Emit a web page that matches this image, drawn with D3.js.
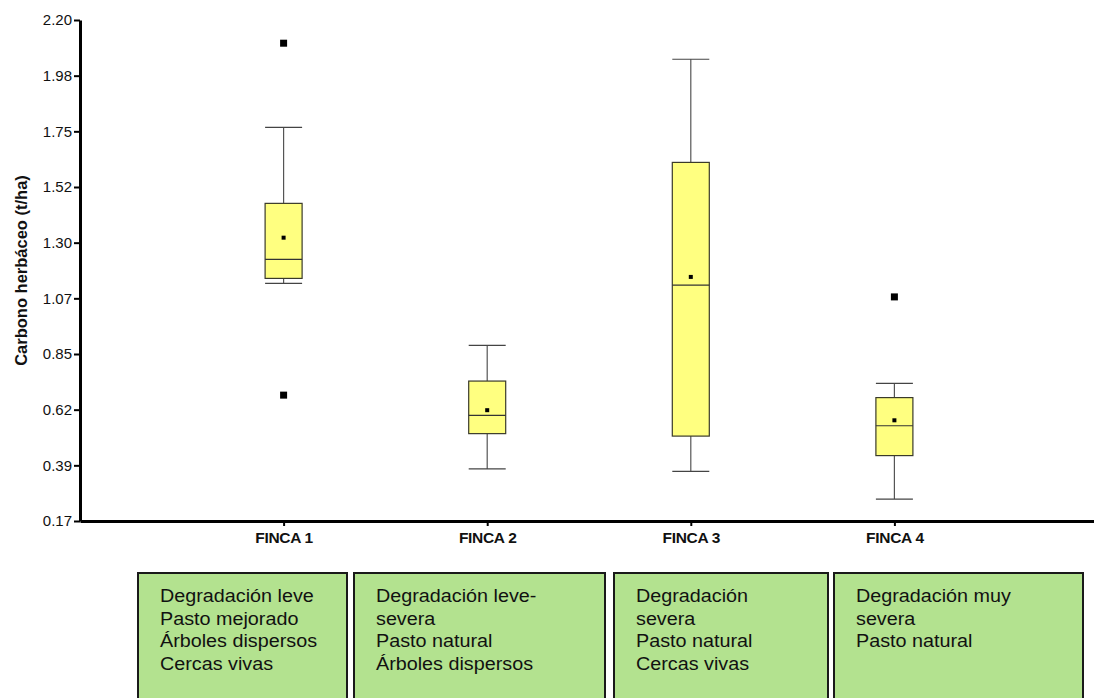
<!DOCTYPE html>
<html>
<head>
<meta charset="utf-8">
<script src="https://cdn.jsdelivr.net/npm/d3@7"></script>
<style>
  body { margin: 0; background: #fff; }
  svg { display: block; font-family: Arial, 'Liberation Sans', sans-serif; }
</style>
</head>
<body>
<svg id="chart" width="1094" height="698"></svg>
<script>
// values
const fincas = ['FINCA 1', 'FINCA 2', 'FINCA 3', 'FINCA 4'];
const q1 = [1.153, 0.524, 0.514, 0.435];
const median = [1.230, 0.598, 1.126, 0.556];
const q3 = [1.457, 0.737, 1.623, 0.670];
const whiskerLow = [1.133, 0.381, 0.371, 0.259];
const whiskerHigh = [1.765, 0.882, 2.041, 0.728];
const means = [1.318, 0.619, 1.159, 0.578];
const outliers = [[2.106, 0.680], [], [], [1.078]];

const yTickLabels = ['0.17', '0.39', '0.62', '0.85', '1.07', '1.30', '1.52', '1.75', '1.98', '2.20'];

const descriptions = [
  ['Degradación leve', 'Pasto mejorado', 'Árboles dispersos', 'Cercas vivas'],
  ['Degradación leve-', 'severa', 'Pasto natural', 'Árboles dispersos'],
  ['Degradación', 'severa', 'Pasto natural', 'Cercas vivas'],
  ['Degradación muy', 'severa', 'Pasto natural']
];

// layout
const svg = d3.select('#chart');
const yMin = 0.17, yMax = 2.20;
const y = d3.scaleLinear().domain([yMin, yMax]).range([521, 20]);
const x = d3.scaleLinear().domain([0, 5]).range([80, 1098]);
const boxW = 37;
const panels = [[138, 347], [354, 605], [614, 828], [834, 1083]];

const stats = fincas.map((f, i) => ({
  name: f, pos: i + 1,
  q1: q1[i], med: median[i], q3: q3[i],
  lo: whiskerLow[i], hi: whiskerHigh[i],
  mean: means[i], out: outliers[i]
}));

// y axis
const yTicks = d3.range(yTickLabels.length).map(i => yMin + i * (yMax - yMin) / (yTickLabels.length - 1));
const yAxisG = svg.append('g')
  .attr('transform', 'translate(80,0)')
  .call(d3.axisLeft(y).tickValues(yTicks).tickFormat((d, i) => yTickLabels[i]).tickSizeInner(6).tickSizeOuter(0).tickPadding(2));
yAxisG.select('.domain').attr('stroke', '#000').attr('stroke-width', 3);
yAxisG.selectAll('.tick line').attr('stroke', '#000').attr('stroke-width', 2);
yAxisG.selectAll('.tick text')
  .attr('font-size', 15).attr('fill', '#111')
  .attr('font-family', "Arial, 'Liberation Sans', sans-serif");

svg.append('text')
  .attr('transform', `translate(27,${(y.range()[0] + y.range()[1]) / 2}) rotate(-90)`)
  .attr('text-anchor', 'middle')
  .attr('font-size', 16.5).attr('font-weight', 'bold').attr('fill', '#111')
  .text('Carbono herbáceo (t/ha)');

// x axis
const xAxisG = svg.append('g')
  .attr('transform', `translate(0,${y(yMin)})`)
  .call(d3.axisBottom(x).tickValues([1, 2, 3, 4]).tickFormat(d => fincas[d - 1]).tickSizeInner(5).tickSizeOuter(0));
xAxisG.select('.domain').attr('stroke', '#000').attr('stroke-width', 3);
xAxisG.selectAll('.tick line').attr('stroke', '#000').attr('stroke-width', 2);
xAxisG.selectAll('.tick text')
  .attr('y', 22).attr('dy', 0)
  .attr('font-size', 15.5).attr('font-weight', 'bold').attr('fill', '#111')
  .attr('letter-spacing', -0.3)
  .attr('font-family', "Arial, 'Liberation Sans', sans-serif");

// boxes
const g = svg.append('g').selectAll('.box').data(stats).enter()
  .append('g').attr('class', 'box');

g.append('line')
  .attr('x1', d => x(d.pos)).attr('x2', d => x(d.pos))
  .attr('y1', d => y(d.hi)).attr('y2', d => y(d.q3))
  .attr('stroke', '#555').attr('stroke-width', 1.2);
g.append('line')
  .attr('x1', d => x(d.pos)).attr('x2', d => x(d.pos))
  .attr('y1', d => y(d.q1)).attr('y2', d => y(d.lo))
  .attr('stroke', '#555').attr('stroke-width', 1.2);
g.append('line')
  .attr('x1', d => x(d.pos) - boxW / 2).attr('x2', d => x(d.pos) + boxW / 2)
  .attr('y1', d => y(d.hi)).attr('y2', d => y(d.hi))
  .attr('stroke', '#444').attr('stroke-width', 1.2);
g.append('line')
  .attr('x1', d => x(d.pos) - boxW / 2).attr('x2', d => x(d.pos) + boxW / 2)
  .attr('y1', d => y(d.lo)).attr('y2', d => y(d.lo))
  .attr('stroke', '#444').attr('stroke-width', 1.2);

g.append('rect')
  .attr('x', d => x(d.pos) - boxW / 2)
  .attr('y', d => y(d.q3))
  .attr('width', boxW)
  .attr('height', d => y(d.q1) - y(d.q3))
  .attr('fill', '#ffff80')
  .attr('stroke', '#3a3a2a').attr('stroke-width', 1.2);

g.append('line')
  .attr('x1', d => x(d.pos) - boxW / 2).attr('x2', d => x(d.pos) + boxW / 2)
  .attr('y1', d => y(d.med)).attr('y2', d => y(d.med))
  .attr('stroke', '#333').attr('stroke-width', 1.2);

g.append('rect')
  .attr('x', d => x(d.pos) - 2)
  .attr('y', d => y(d.mean) - 2)
  .attr('width', 4).attr('height', 4)
  .attr('fill', '#000');

g.selectAll('.outlier').data(d => d.out.map(v => ({ pos: d.pos, v }))).enter()
  .append('rect')
  .attr('class', 'outlier')
  .attr('x', d => x(d.pos) - 3.5)
  .attr('y', d => y(d.v) - 3.5)
  .attr('width', 7).attr('height', 7)
  .attr('fill', '#000');

// description panels
const p = svg.append('g').selectAll('.panel').data(descriptions).enter()
  .append('g').attr('class', 'panel');

p.append('rect')
  .attr('x', (d, i) => panels[i][0])
  .attr('y', 573)
  .attr('width', (d, i) => panels[i][1] - panels[i][0])
  .attr('height', 150)
  .attr('fill', '#b3e28f')
  .attr('stroke', '#1a1a1a').attr('stroke-width', 2);

p.each(function (lines, i) {
  d3.select(this).selectAll('text').data(lines).enter()
    .append('text')
    .attr('transform', (t, j) => `translate(${panels[i][0] + 22},${602 + j * 22.7}) scale(1.13,1)`)
    .attr('font-size', 17.5)
    .attr('fill', '#111')
    .text(t => t);
});
</script>
</body>
</html>
